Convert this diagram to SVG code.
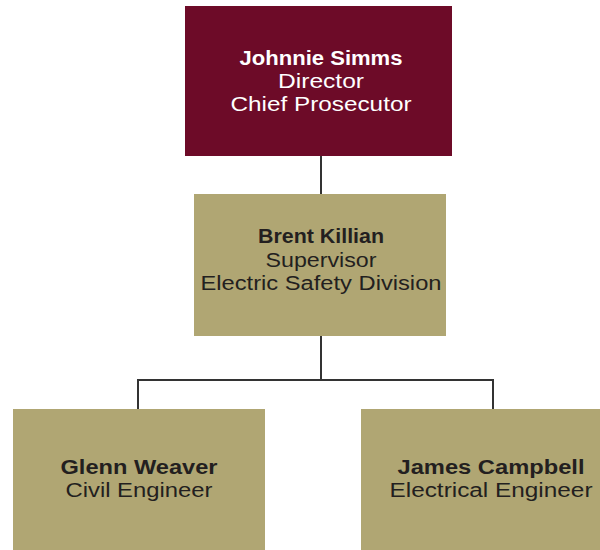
<svg xmlns="http://www.w3.org/2000/svg" width="600" height="550" viewBox="0 0 600 550">
<style>
.t{font-family:"Liberation Sans",Arial,sans-serif;font-size:20px;text-anchor:middle;fill:#231f20}
.b{font-weight:bold}
.w{fill:#ffffff}
.tan{fill:#b0a673}
.con{stroke:#333333;stroke-width:2;fill:none}
</style>
<rect width="600" height="550" fill="#ffffff"/>
<g id="connectors">
<line class="con" x1="321" y1="156" x2="321" y2="194"/>
<polyline class="con" points="321,336 321,380 138,380 138,409"/>
<polyline class="con" points="321,380 493,380 493,409"/>
</g>
<g id="node-johnnie">
<rect x="185" y="6" width="267" height="150" fill="#6d0b28"/>
<text class="t b w" x="321" y="65" textLength="163" lengthAdjust="spacingAndGlyphs">Johnnie Simms</text>
<text class="t w" x="321" y="88" textLength="86" lengthAdjust="spacingAndGlyphs">Director</text>
<text class="t w" x="321" y="111" textLength="181" lengthAdjust="spacingAndGlyphs">Chief Prosecutor</text>
</g>
<g id="node-brent">
<rect class="tan" x="194" y="194" width="252" height="142"/>
<text class="t b" x="321" y="243" textLength="126" lengthAdjust="spacingAndGlyphs">Brent Killian</text>
<text class="t" x="321" y="267" textLength="111" lengthAdjust="spacingAndGlyphs">Supervisor</text>
<text class="t" x="321" y="290" textLength="241" lengthAdjust="spacingAndGlyphs">Electric Safety Division</text>
</g>
<g id="node-glenn">
<rect class="tan" x="13" y="409" width="252" height="141"/>
<text class="t b" x="139" y="474" textLength="157" lengthAdjust="spacingAndGlyphs">Glenn Weaver</text>
<text class="t" x="139" y="497" textLength="147" lengthAdjust="spacingAndGlyphs">Civil Engineer</text>
</g>
<g id="node-james">
<rect class="tan" x="361" y="409" width="239" height="141"/>
<text class="t b" x="491" y="474" textLength="187" lengthAdjust="spacingAndGlyphs">James Campbell</text>
<text class="t" x="491" y="497" textLength="203" lengthAdjust="spacingAndGlyphs">Electrical Engineer</text>
</g>
</svg>
